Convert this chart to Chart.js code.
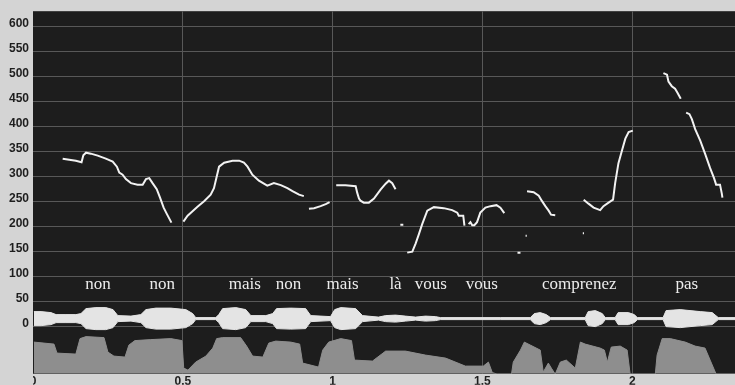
<!DOCTYPE html>
<html>
<head>
<meta charset="utf-8">
<script src="https://cdn.jsdelivr.net/npm/chart.js@4.4.1/dist/chart.umd.min.js"></script>
<style>
    html, body { margin: 0; padding: 0; background: #d4d4d4; }
    #wrap { width: 735px; height: 385px; position: relative; }
</style>
</head>
<body>
<div id="wrap"><canvas id="pitchChart"></canvas></div>
<script>
// axis ranges / ticks
var yMin = -94.4, yMax = 631;
var tMax = 2.343;
var yTicks = [0, 50, 100, 150, 200, 250, 300, 350, 400, 450, 500, 550, 600];
var xTicks = [0, 0.5, 1, 1.5, 2];
var xTickLabels = ['0', '0.5', '1', '1.5', '2'];

// pitch contour (Hz), null = unvoiced gap
var pitchT = [
    0.099, 0.121, 0.143, 0.162, 0.168, 0.177, 0.193, 0.216, 0.243, 0.266, 0.280, 0.288, 0.299, 0.310, 0.327, 0.349, 0.366, 0.377, 0.388, 0.399, 0.413, 0.424, 0.436, 0.447, 0.462, 0.47,
    0.502, 0.516, 0.527, 0.549, 0.571, 0.593, 0.604, 0.613, 0.621, 0.638, 0.666, 0.688, 0.704, 0.716, 0.732, 0.754, 0.782, 0.804, 0.827, 0.849, 0.866, 0.888, 0.904, 0.91,
    0.921, 0.938, 0.960, 0.977, 0.990, 1.0,
    1.012, 1.043, 1.077, 1.082, 1.088, 1.093, 1.104, 1.121, 1.138, 1.160, 1.177, 1.188, 1.199, 1.210, 1.22,
    1.226, 1.236, 1.24,
    1.249, 1.266, 1.277, 1.288, 1.299, 1.316, 1.338, 1.371, 1.399, 1.416, 1.421, 1.436, 1.440, 1.45,
    1.454, 1.460, 1.466, 1.473, 1.482, 1.493, 1.510, 1.527, 1.547, 1.560, 1.573, 1.6,
    1.617, 1.627, 1.63,
    1.644, 1.648, 1.648,
    1.649, 1.671, 1.688, 1.699, 1.710, 1.721, 1.729, 1.743, 1.8,
    1.835, 1.839, 1.839,
    1.838, 1.854, 1.871, 1.893, 1.904, 1.921, 1.936, 1.943, 1.954, 1.966, 1.977, 1.988, 2.002, 2.05,
    2.104, 2.116, 2.121, 2.132, 2.143, 2.151, 2.162, 2.17,
    2.180, 2.191, 2.199, 2.210, 2.227, 2.243, 2.260, 2.273, 2.280, 2.293, 2.299, 2.301
];
var pitchHz = [
    336, 334, 332, 329, 343, 348, 346, 342, 336, 330, 320, 308, 304, 295, 287, 284, 284, 295, 297, 287, 275, 258, 238, 225, 208, null,
    210, 222, 228, 240, 251, 264, 277, 300, 320, 328, 332, 332, 328, 320, 304, 292, 282, 287, 283, 277, 271, 264, 261, null,
    236, 237, 241, 245, 249, null,
    283, 283, 281, 268, 256, 252, 248, 248, 256, 274, 286, 292, 287, 275, null,
    204, 204, null,
    148, 150, 166, 185, 205, 232, 239, 237, 233, 228, 222, 222, 202, null,
    205, 209, 203, 203, 209, 228, 238, 241, 243, 238, 227, null,
    148, 148, null,
    182, 182, null,
    271, 269, 262, 251, 241, 232, 224, 223, null,
    187, 187, null,
    254, 246, 238, 233, 241, 248, 254, 287, 327, 353, 376, 389, 392, null,
    507, 504, 490, 481, 476, 468, 456, null,
    428, 425, 415, 395, 372, 346, 317, 297, 284, 284, 266, 258
];

// word labels
var words = ['non', 'non', 'mais', 'non', 'mais', 'là', 'vous', 'vous', 'comprenez', 'pas'];
var wordT = [0.217, 0.431, 0.707, 0.853, 1.033, 1.21, 1.328, 1.498, 1.823, 2.182];
var wordLevel = 76;

// waveform envelope (half amplitude around waveCenter)
var waveCenter = 16;
var waveT = [
    0.003, 0.027, 0.06, 0.077, 0.11, 0.143, 0.16, 0.177, 0.21, 0.243, 0.267, 0.283, 0.327, 0.36, 0.377, 0.41, 0.46, 0.51, 0.533, 0.543,
    0.61, 0.62, 0.633, 0.677, 0.71, 0.727, 0.777, 0.8, 0.813, 0.86, 0.91, 0.927, 0.993, 1.007, 1.027, 1.077, 1.1, 1.153, 1.177, 1.21,
    1.243, 1.277, 1.31, 1.343, 1.36, 1.56, 1.66, 1.673, 1.693, 1.713, 1.727, 1.843, 1.853, 1.877, 1.9, 1.91, 1.943, 1.953, 1.987, 2.007,
    2.017, 2.103, 2.113, 2.16, 2.227, 2.267, 2.287, 2.343
];
var waveAmp = [
    14, 14, 12, 8, 8, 8, 10, 20, 22, 22, 18, 6, 5, 8, 18, 21, 21, 18, 10, 2,
    2, 8, 20, 22, 18, 6, 6, 10, 20, 21, 20, 6, 4, 18, 22, 20, 6, 3, 6, 7,
    5, 3, 5, 4, 2, 2, 2, 10, 12, 8, 2, 2, 14, 16, 10, 2, 2, 12, 12, 8,
    2, 2, 16, 18, 14, 12, 2, 2
];

// intensity curve (same vertical units, bottom band)
var intT = [
    0.003, 0.07, 0.08, 0.143, 0.157, 0.177, 0.237, 0.25, 0.27, 0.307, 0.32, 0.34, 0.393, 0.46, 0.497, 0.503, 0.517, 0.543, 0.577, 0.6,
    0.613, 0.633, 0.693, 0.713, 0.733, 0.767, 0.787, 0.81, 0.86, 0.89, 0.9, 0.953, 0.967, 0.987, 1.027, 1.063, 1.073, 1.133, 1.177, 1.243,
    1.31, 1.377, 1.443, 1.503, 1.52, 1.533, 1.55, 1.597, 1.603, 1.627, 1.64, 1.66, 1.693, 1.703, 1.72, 1.73, 1.743, 1.76, 1.78, 1.81,
    1.827, 1.843, 1.893, 1.907, 1.917, 1.93, 1.96, 1.983, 1.993, 2.077, 2.083, 2.1, 2.127, 2.177, 2.21, 2.243, 2.26, 2.28, 2.343
];
var intV = [
    -31, -35, -53, -55, -24, -20, -22, -51, -59, -61, -37, -28, -26, -24, -28, -83, -87, -71, -59, -43,
    -24, -22, -22, -39, -59, -61, -33, -29, -31, -35, -73, -81, -47, -31, -24, -28, -67, -69, -49, -49,
    -57, -63, -79, -79, -71, -92, -95, -95, -71, -47, -31, -37, -47, -91, -73, -83, -95, -71, -67, -83,
    -31, -35, -43, -47, -71, -41, -39, -47, -95, -95, -57, -24, -24, -31, -39, -43, -67, -95, -95
];

var gridColor = '#585858';
var panelBg = '#d4d4d4';

var plotBg = {
    id: 'plotBg',
    beforeDraw: function(chart) {
        var a = chart.chartArea, ctx = chart.ctx;
        ctx.save();
        ctx.fillStyle = panelBg;
        ctx.fillRect(0, 0, chart.width, chart.height);
        ctx.fillStyle = '#1d1d1d';
        ctx.fillRect(a.left, a.top, a.right - a.left, a.bottom - a.top);
        ctx.restore();
    },
    afterDraw: function(chart) {
        // left strip hides half of the first time label
        var a = chart.chartArea, ctx = chart.ctx;
        ctx.save();
        ctx.fillStyle = panelBg;
        ctx.fillRect(0, a.bottom, a.left, chart.height - a.bottom);
        ctx.restore();
    }
};

var wordLabels = {
    id: 'wordLabels',
    afterDatasetsDraw: function(chart) {
        var ctx = chart.ctx, xs = chart.scales.x, ys = chart.scales.y;
        ctx.save();
        ctx.font = '17px "Liberation Serif", serif';
        ctx.fillStyle = '#ececec';
        ctx.textAlign = 'center';
        ctx.textBaseline = 'alphabetic';
        words.forEach(function(w, i) {
            ctx.fillText(w, xs.getPixelForValue(wordT[i]), ys.getPixelForValue(wordLevel));
        });
        ctx.restore();
    }
};

var pitchData = pitchT.map(function(t, i) { return { x: t, y: pitchHz[i] }; });
var waveTop = waveT.map(function(t, i) { return { x: t, y: waveCenter + waveAmp[i] }; });
var waveBottom = waveT.map(function(t, i) { return { x: t, y: waveCenter - waveAmp[i] }; });
var intData = intT.map(function(t, i) { return { x: t, y: intV[i] }; });

var chart = new Chart(document.getElementById('pitchChart').getContext('2d'), {
    type: 'line',
    data: {
        datasets: [{
            label: 'pitch',
            data: pitchData,
            borderColor: '#f2f2f2',
            borderWidth: 2,
            pointRadius: 0,
            spanGaps: false,
            fill: false,
            tension: 0
        }, {
            label: 'wave top',
            data: waveTop,
            borderColor: '#e4e4e4',
            borderWidth: 1,
            backgroundColor: '#e4e4e4',
            pointRadius: 0,
            fill: '+1'
        }, {
            label: 'wave bottom',
            data: waveBottom,
            borderColor: '#e4e4e4',
            borderWidth: 1,
            pointRadius: 0,
            fill: false
        }, {
            label: 'intensity',
            data: intData,
            borderColor: '#8e8e8e',
            borderWidth: 1,
            backgroundColor: '#8e8e8e',
            pointRadius: 0,
            fill: 'start'
        }]
    },
    options: {
        responsive: true,
        maintainAspectRatio: false,
        animation: false,
        devicePixelRatio: 1,
        layout: { padding: { top: 5, right: 0, left: 0, bottom: 0 } },
        plugins: {
            legend: { display: false },
            tooltip: { enabled: false }
        },
        scales: {
            x: {
                type: 'linear',
                min: 0,
                max: tMax,
                afterBuildTicks: function(axis) {
                    axis.ticks = xTicks.map(function(v) { return { value: v }; });
                },
                afterFit: function(axis) { axis.height = 11; },
                border: { display: false },
                grid: {
                    drawTicks: false,
                    color: function(c) {
                        return c.tick && c.tick.value === 0 ? 'rgba(0,0,0,0)' : gridColor;
                    }
                },
                ticks: {
                    autoSkip: false,
                    maxRotation: 0,
                    padding: 1,
                    color: '#1e1e1e',
                    font: { family: '"Liberation Sans", Arial, sans-serif', size: 12, weight: 'bold' },
                    callback: function(value, index) { return xTickLabels[index]; }
                }
            },
            y: {
                min: yMin,
                max: yMax,
                afterBuildTicks: function(axis) {
                    axis.ticks = yTicks.map(function(v) { return { value: v }; });
                },
                afterFit: function(axis) { axis.width = 33; },
                border: { display: false },
                grid: { drawTicks: false, color: gridColor },
                ticks: {
                    padding: 4,
                    labelOffset: -3,
                    color: '#1e1e1e',
                    font: { family: '"Liberation Sans", Arial, sans-serif', size: 12, weight: 'bold' }
                }
            }
        }
    },
    plugins: [plotBg, wordLabels]
});
</script>
</body>
</html>
